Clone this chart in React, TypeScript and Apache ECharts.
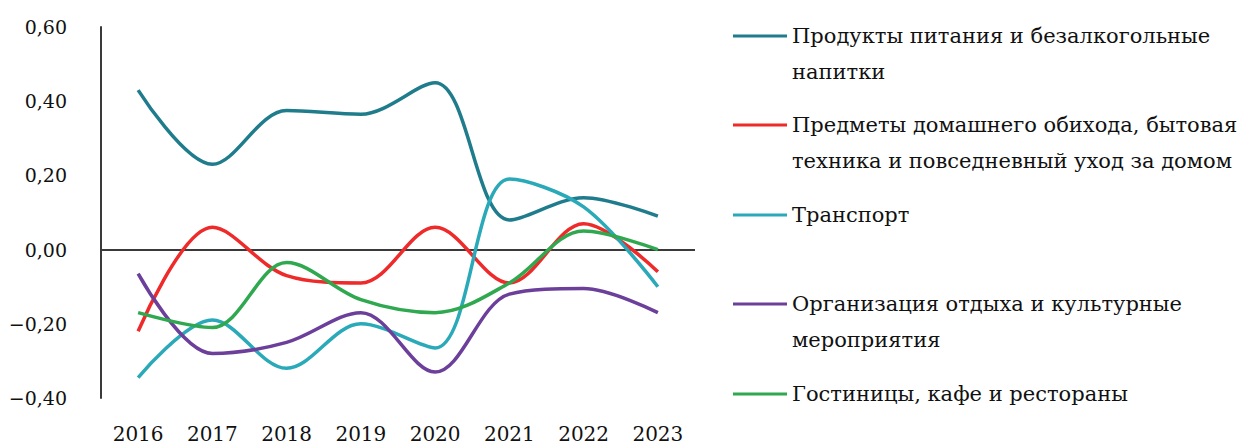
import React, { useEffect, useRef } from "react";
import * as echarts from "echarts";

// Years on the horizontal axis
const years = ["2016", "2017", "2018", "2019", "2020", "2021", "2022", "2023"];

// Contribution by consumption category
const food = [0.43, 0.23, 0.375, 0.365, 0.45, 0.08, 0.14, 0.09];
const household = [-0.22, 0.06, -0.07, -0.09, 0.06, -0.09, 0.07, -0.06];
const transport = [-0.345, -0.19, -0.32, -0.2, -0.265, 0.19, 0.115, -0.1];
const recreation = [-0.065, -0.28, -0.25, -0.17, -0.33, -0.12, -0.105, -0.17];
const hotels = [-0.17, -0.21, -0.035, -0.135, -0.17, -0.09, 0.05, 0.0];

const seriesNames = [
  "Продукты питания и безалкогольные напитки",
  "Предметы домашнего обихода, бытовая техника и повседневный уход за домом",
  "Транспорт",
  "Организация отдыха и культурные мероприятия",
  "Гостиницы, кафе и рестораны",
];

// Legend text, wrapped the way it is printed; the blank line keeps the key
// line level with the first printed line of each entry
const legendLabels = [
  "\nПродукты питания и безалкогольные\nнапитки",
  "\nПредметы домашнего обихода, бытовая\nтехника и повседневный уход за домом",
  "\nТранспорт\n",
  "\nОрганизация отдыха и культурные\nмероприятия",
  "\nГостиницы, кафе и рестораны\n",
];

const colors = ["#1f7c8c", "#ee2a2a", "#2aa9b9", "#6b3f9a", "#2fa84f"];
const seriesData = [food, household, transport, recreation, hotels];

const FONT = "DejaVu Serif";
const LEGEND_LINE = 36;
const legendCenters = [36, 125, 215, 304, 394];

const fmt = (v: number) => {
  const s = Math.abs(v).toFixed(2).replace(".", ",");
  return v < -1e-9 ? "\u2212" + s : s;
};

export default function App() {
  const ref = useRef<HTMLDivElement>(null);

  useEffect(() => {
    if (!ref.current) return;
    const chart = echarts.init(ref.current, null, { renderer: "svg" });

    const legends = seriesNames.map((name, i) => ({
      show: true,
      orient: "vertical",
      left: 733,
      top: legendCenters[i] - 1.5 * LEGEND_LINE,
      padding: 0,
      itemWidth: 54,
      itemHeight: 3,
      icon: "rect",
      selectedMode: false,
      data: [{ name, icon: "rect", itemStyle: { color: colors[i] } }],
      formatter: () => legendLabels[i],
      textStyle: {
        fontFamily: FONT,
        fontSize: 21,
        color: "#111",
        lineHeight: LEGEND_LINE,
      },
    }));

    const series = seriesNames.map((name, i) => ({
      name,
      type: "line",
      data: seriesData[i],
      smooth: 0.34,
      symbol: "none",
      lineStyle: { color: colors[i], width: 3.5 },
      itemStyle: { color: colors[i] },
      z: 3,
      ...(i === 0
        ? {
            markLine: {
              silent: true,
              symbol: "none",
              label: { show: false },
              lineStyle: { color: "#3a3a3a", width: 2, type: "solid" },
              data: [{ yAxis: 0 }],
              z: 1,
            },
          }
        : {}),
    }));

    chart.setOption({
      animation: false,
      backgroundColor: "#ffffff",
      textStyle: { fontFamily: FONT },
      grid: {
        left: 101,
        top: 27,
        width: 594,
        height: 371,
        containLabel: false,
        outerBoundsMode: "none",
      },
      legend: legends,
      xAxis: {
        type: "category",
        data: years,
        boundaryGap: true,
        axisLine: { show: false },
        axisTick: { show: false },
        splitLine: { show: false },
        axisLabel: {
          fontFamily: FONT,
          fontSize: 20,
          color: "#111",
          margin: 26,
        },
      },
      yAxis: {
        type: "value",
        min: -0.4,
        max: 0.6,
        interval: 0.2,
        axisLine: { show: true, lineStyle: { color: "#3a3a3a", width: 2 } },
        axisTick: { show: false },
        splitLine: { show: false },
        axisLabel: {
          fontFamily: FONT,
          fontSize: 19,
          color: "#111",
          margin: 34,
          formatter: (v: number) => fmt(v),
        },
      },
      series,
    });

    return () => chart.dispose();
  }, []);

  return (
    <div
      ref={ref}
      style={{ position: "fixed", left: 0, top: 0, width: 1247, height: 445, background: "#fff" }}
    />
  );
}
